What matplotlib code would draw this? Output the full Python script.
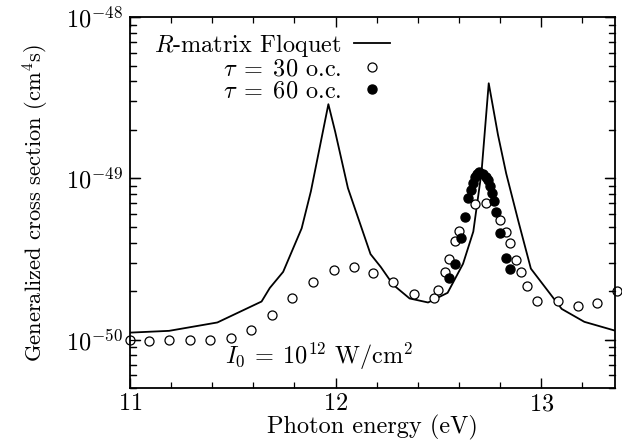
import numpy as np
import matplotlib
matplotlib.use("Agg")
import matplotlib.pyplot as plt
from matplotlib.ticker import NullFormatter

# R-matrix Floquet (linea continua): energia (eV), log10 de la seccion eficaz
floquet_e = [11.0, 11.19, 11.425, 11.64, 11.68, 11.745, 11.835, 11.88, 11.965, 11.998,
             12.06, 12.17, 12.22, 12.28, 12.36, 12.45, 12.545, 12.62, 12.67, 12.71,
             12.745, 12.79, 12.83, 12.89, 12.95, 13.10, 13.21, 13.36]
floquet_log = [-49.957, -49.946, -49.894, -49.764, -49.68, -49.58, -49.31, -49.08, -48.54, -48.71,
               -49.06, -49.47, -49.55, -49.66, -49.745, -49.77, -49.71, -49.53, -49.33, -48.96,
               -48.41, -48.73, -48.97, -49.27, -49.56, -49.81, -49.89, -49.945]

# tau = 30 o.c. (circulos abiertos)
tau30_e = [11.0, 11.093, 11.19, 11.29, 11.39, 11.49, 11.59, 11.69, 11.79, 11.89,
           11.99, 12.09, 12.18, 12.28, 12.38, 12.48, 12.50, 12.53, 12.55, 12.58,
           12.60, 12.68, 12.73, 12.80, 12.83, 12.85, 12.88, 12.90, 12.93, 12.98,
           13.08, 13.18, 13.27, 13.37]
tau30_log = [-50.0, -50.01, -50.005, -50.005, -50.0, -49.99, -49.94, -49.85, -49.74, -49.64,
             -49.57, -49.55, -49.59, -49.64, -49.72, -49.74, -49.69, -49.58, -49.50, -49.39,
             -49.325, -49.16, -49.15, -49.26, -49.335, -49.40, -49.505, -49.58, -49.67, -49.76,
             -49.76, -49.79, -49.775, -49.70]

# tau = 60 o.c. (circulos llenos)
tau60_e = [12.55, 12.58, 12.61, 12.63, 12.645, 12.66, 12.67, 12.68, 12.69, 12.70,
           12.715, 12.73, 12.74, 12.75, 12.76, 12.77, 12.78, 12.80, 12.83, 12.85]
tau60_log = [-49.62, -49.53, -49.37, -49.24, -49.12, -49.07, -49.03, -48.99, -48.97, -48.96,
             -48.97, -48.99, -49.01, -49.05, -49.09, -49.14, -49.21, -49.34, -49.495, -49.56]

# ticks del eje y (log)
mayores = [1e-50, 1e-49, 1e-48]
menores = [k * 10.0 ** e for e in (-51, -50, -49) for k in range(2, 10)]

plt.rcParams['font.family'] = 'serif'
plt.rcParams['font.serif'] = ['cmr10']
plt.rcParams['mathtext.fontset'] = 'cm'
plt.rcParams['axes.formatter.use_mathtext'] = True

fs = 17.5
fig = plt.figure(figsize=(6.22, 4.4), dpi=100)
ax = fig.add_axes([0.209, 0.118, 0.78, 0.843])

ax.plot(floquet_e, 10 ** np.array(floquet_log), '-', color='black', lw=1.3,
        label=r'$R$-matrix Floquet')
ax.plot(tau30_e, 10 ** np.array(tau30_log), 'o', mfc='white', mec='black', mew=0.9, ms=6.5,
        label=r'$\tau\;=\;30$ o.c.', clip_on=False)
ax.plot(tau60_e, 10 ** np.array(tau60_log), 'o', color='black', ms=6.5,
        label=r'$\tau\;=\;60$ o.c.')

ax.set_yscale('log')
ax.set_xticks([11, 12, 13])
ax.set_xticks(np.arange(11.2, 13.36, 0.2), minor=True)
ax.tick_params(which='both', direction='in', top=True, right=True, labelsize=fs)
ax.tick_params(which='major', length=7, width=1)
ax.tick_params(which='minor', length=4.3, width=0.9)
ax.tick_params(axis='y', which='major', pad=5)
for s in ax.spines.values():
    s.set_linewidth(1.3)

ax.set_xlabel('Photon energy (eV)', fontsize=fs, labelpad=0)
ax.set_ylabel(r'Generalized cross section (cm$^4$s)', fontsize=16.2, labelpad=11)

ax.text(0.39, 0.085, r'$I_0\:=\:10^{12}$ W/cm$^2$', transform=ax.transAxes,
        ha='center', va='center', fontsize=fs)

ax.legend(loc='upper left', bbox_to_anchor=(0.02, 1.0), markerfirst=False, frameon=False,
          fontsize=fs, handlelength=1.5, handletextpad=0.5, labelspacing=0.0,
          borderaxespad=0.2)

ax.set_yticks(mayores)
ax.set_yticks(menores, minor=True)
ax.yaxis.set_minor_formatter(NullFormatter())
ax.set_xlim(11, 13.36)
ax.set_ylim(5e-51, 1e-48)

# marcas del eje y dibujadas tambien a mano (izquierda y derecha), por si no aparecen
ytr = ax.get_yaxis_transform()
for yv in mayores + menores:
    if 5e-51 <= yv <= 1e-48:
        largo = 0.021 if yv in mayores else 0.0125
        ax.plot([0, largo], [yv, yv], transform=ytr, color='black', lw=0.9, clip_on=False)
        ax.plot([1 - largo, 1], [yv, yv], transform=ytr, color='black', lw=0.9, clip_on=False)

fig.savefig('out.png', dpi=100)
